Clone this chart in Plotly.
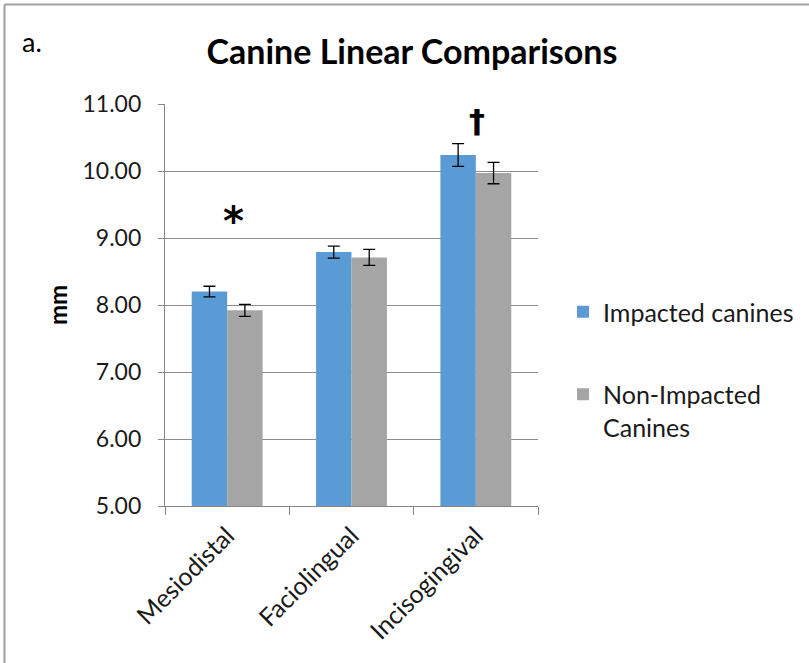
import plotly.graph_objects as go

categories = ["Mesiodistal", "Faciolingual", "Incisogingival"]
impacted = [8.20, 8.79, 10.24]
impacted_err = [0.08, 0.09, 0.17]
non_impacted = [7.92, 8.71, 9.97]
non_impacted_err = [0.09, 0.12, 0.16]
series_names = ["Impacted canines", "Non-Impacted<br>Canines"]
y_ticks = [5, 6, 7, 8, 9, 10, 11]
marks = [("Mesiodistal", 9.34, "*"), ("Incisogingival", 10.72, "†")]

FONT = "Lato"
W, H = 809, 663
L, R, T, B = 165, 538, 104, 506

fig = go.Figure()
fig.add_trace(go.Bar(
    x=categories, y=impacted, name=series_names[0], legendgroup="a",
    marker=dict(color="#5B9BD5", line=dict(width=0)),
    error_y=dict(type="data", array=impacted_err, color="black", thickness=1.3, width=6),
))
fig.add_trace(go.Bar(
    x=categories, y=non_impacted, name=series_names[1], legendgroup="b",
    marker=dict(color="#A5A5A5", line=dict(width=0)),
    error_y=dict(type="data", array=non_impacted_err, color="black", thickness=1.3, width=6),
))

for cat, yv, txt in marks:
    fig.add_annotation(x=cat, y=yv, text=f"<b>{txt}</b>", showarrow=False,
                       xshift=6 if txt == "*" else 1, yshift=-6 if txt == "*" else 2,
                       font=dict(family="DejaVu Sans", size=40 if txt == "*" else 32, color="black"))

pw, ph = R - L, B - T
def px(x): return (x - L) / pw
def py(y): return (B - y) / ph

fig.add_annotation(x=px(57), y=py(305), xref="paper", yref="paper", text="<b>mm</b>",
                   xanchor="center", yanchor="middle",
                   textangle=-90, showarrow=False, font=dict(family=FONT, size=24, color="black"))
fig.add_annotation(x=px(20), y=py(42), xref="paper", yref="paper", text="a.", xanchor="left",
                   yanchor="middle",
                   showarrow=False, font=dict(family=FONT, size=27, color="black"))

# outer frame lines (top and left)
fig.add_shape(type="line", xref="paper", yref="paper", x0=px(4.5), x1=px(812), y0=py(4.5), y1=py(4.5),
              line=dict(color="#A0A0A0", width=2))
fig.add_shape(type="line", xref="paper", yref="paper", x0=px(4.5), x1=px(4.5), y0=py(4.5), y1=py(670),
              line=dict(color="#A0A0A0", width=2))

fig.update_layout(
    width=W, height=H,
    margin=dict(l=L, r=W - R, t=T, b=H - B, autoexpand=False),
    paper_bgcolor="white", plot_bgcolor="white",
    barmode="group", bargap=0.43, bargroupgap=0,
    font=dict(family=FONT, size=23, color="#1a1a1a"),
    title=dict(text="<b>Canine Linear Comparisons</b>", x=412 / W, xref="container", xanchor="center",
               y=1 - 52 / H, yref="container", yanchor="middle",
               font=dict(family=FONT, size=34, color="black")),
    legend=dict(x=px(563), y=py(289), xanchor="left", yanchor="top", tracegroupgap=47,
                font=dict(family=FONT, size=25, color="#1a1a1a"), itemwidth=30, valign="top",
                bgcolor="rgba(0,0,0,0)"),
    showlegend=True,
)
fig.update_xaxes(
    type="category", tickangle=-45, tickson="boundaries", ticks="outside", ticklen=8,
    tickcolor="#868686", showline=True, linecolor="#868686", linewidth=1.3,
    ticklabelstandoff=4,
    tickfont=dict(family=FONT, size=25, color="#1a1a1a"), showgrid=False,
)
fig.update_yaxes(
    range=[5, 11], tickvals=y_ticks, tickformat=".2f", ticks="outside", ticklen=6,
    tickcolor="#868686", showline=True, linecolor="#868686", linewidth=1.3,
    showgrid=True, gridcolor="#8C8C8C", gridwidth=1.3, zeroline=False,
    ticklabelstandoff=12,
    tickfont=dict(family=FONT, size=23, color="#1a1a1a"),
)

fig.write_html("out.html", config={"displayModeBar": False},
               post_script="document.body.style.margin='0';document.body.style.overflow='hidden';")
